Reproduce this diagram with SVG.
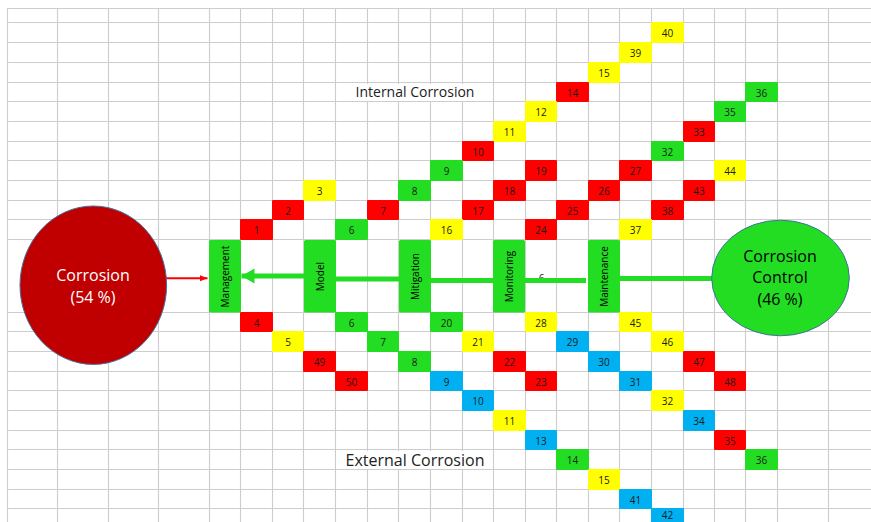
<svg xmlns="http://www.w3.org/2000/svg" width="871" height="522" viewBox="0 0 871 522">
  <style>
    .grid { stroke: #CDCDCD; stroke-width: 1.1; fill: none; }
    .R { fill: #FF0000; }
    .Y { fill: #FFFF00; }
    .G { fill: #22DD22; }
    .B { fill: #00B0F0; }
    .num { font-family: "Open Sans", "Noto Sans", sans-serif; font-size: 10px; fill: #1a1a1a; text-anchor: middle; }
    .stage { fill: #22DD22; }
    .stage-label { font-family: "Open Sans", "Noto Sans", sans-serif; font-size: 10px; fill: #000; text-anchor: middle; }
    .title { font-family: "Open Sans", "Noto Sans", sans-serif; fill: #222; text-anchor: middle; }
    .big { font-family: "Open Sans", "Noto Sans", sans-serif; font-size: 16px; text-anchor: middle; }
    .link-green { stroke: #22DD22; stroke-width: 5; fill: none; }
    .link-red { stroke: #FF0000; stroke-width: 2; fill: none; }
  </style>
  <defs>
    <marker id="head-red" markerUnits="userSpaceOnUse" markerWidth="9" markerHeight="8" refX="8" refY="4" orient="auto">
      <path d="M0,0.8 L8,4 L0,7.2 Z" fill="#FF0000"/>
    </marker>
    <marker id="head-green" markerUnits="userSpaceOnUse" markerWidth="14" markerHeight="16" refX="13" refY="8" orient="auto">
      <path d="M0,0.5 L13,8 L0,15.5 Z" fill="#22DD22"/>
    </marker>
  </defs>

  <rect width="871" height="522" fill="#FFFFFF"/>

  <!-- sheet grid -->
  <path class="grid" d="
    M7.5,8 V522 M57.5,8 V522 M108.5,8 V522 M158.5,8 V522 M209.5,8 V522 M240.5,8 V522
    M272.5,8 V522 M303.5,8 V522 M335.5,8 V522 M367.5,8 V522 M398.5,8 V522 M430.5,8 V522
    M462.5,8 V522 M493.5,8 V522 M525.5,8 V522 M556.5,8 V522 M588.5,8 V522 M619.5,8 V522
    M651.5,8 V522 M683.5,8 V522 M714.5,8 V522 M745.5,8 V522 M777.5,8 V522 M828.5,8 V522
    M7,8.5 H871 M7,22.5 H871 M7,42.5 H871 M7,62.5 H871 M7,82.5 H871 M7,101.5 H871
    M7,121.5 H871 M7,141.5 H871 M7,160.5 H871 M7,180.5 H871 M7,200.5 H871 M7,219.5 H871
    M7,239.5 H871 M7,312.5 H871 M7,331.5 H871 M7,351.5 H871 M7,371.5 H871 M7,390.5 H871
    M7,410.5 H871 M7,430.5 H871 M7,449.5 H871 M7,469.5 H871 M7,489.5 H871 M7,508.5 H871"/>

  <!-- section headings -->
  <g id="label-internal">
    <rect x="351" y="84" width="129" height="17" fill="#FFFFFF"/>
    <text class="title" x="415" y="97" font-size="14">Internal Corrosion</text>
  </g>
  <g id="label-external">
    <rect x="342" y="451" width="146" height="18" fill="#FFFFFF"/>
    <text class="title" x="415" y="465.5" font-size="16">External Corrosion</text>
  </g>

  <!-- upper branch: internal corrosion factors -->
  <g id="i-40"><rect class="Y" x="651" y="22" width="33" height="21" rx="1"/><text class="num" x="667.5" y="37">40</text></g>
  <g id="i-39"><rect class="Y" x="619" y="42" width="33" height="21" rx="1"/><text class="num" x="635.5" y="57">39</text></g>
  <g id="i-15"><rect class="Y" x="588" y="62" width="32" height="21" rx="1"/><text class="num" x="604" y="77">15</text></g>
  <g id="i-14"><rect class="R" x="556" y="82" width="33" height="20" rx="1"/><text class="num" x="572.5" y="96.5">14</text></g>
  <g id="i-36"><rect class="G" x="745" y="82" width="33" height="20" rx="1"/><text class="num" x="761.5" y="96.5">36</text></g>
  <g id="i-12"><rect class="Y" x="525" y="101" width="32" height="21" rx="1"/><text class="num" x="541" y="116">12</text></g>
  <g id="i-35"><rect class="G" x="714" y="101" width="32" height="21" rx="1"/><text class="num" x="730" y="116">35</text></g>
  <g id="i-11"><rect class="Y" x="493" y="121" width="33" height="21" rx="1"/><text class="num" x="509.5" y="136">11</text></g>
  <g id="i-33"><rect class="R" x="683" y="121" width="32" height="21" rx="1"/><text class="num" x="699" y="136">33</text></g>
  <g id="i-10"><rect class="R" x="462" y="141" width="32" height="20" rx="1"/><text class="num" x="478" y="155.5">10</text></g>
  <g id="i-32"><rect class="G" x="651" y="141" width="33" height="20" rx="1"/><text class="num" x="667.5" y="155.5">32</text></g>
  <g id="i-9"><rect class="G" x="430" y="160" width="33" height="21" rx="1"/><text class="num" x="446.5" y="175">9</text></g>
  <g id="i-19"><rect class="R" x="525" y="160" width="32" height="21" rx="1"/><text class="num" x="541" y="175">19</text></g>
  <g id="i-27"><rect class="R" x="619" y="160" width="33" height="21" rx="1"/><text class="num" x="635.5" y="175">27</text></g>
  <g id="i-44"><rect class="Y" x="714" y="160" width="32" height="21" rx="1"/><text class="num" x="730" y="175">44</text></g>
  <g id="i-3"><rect class="Y" x="303" y="180" width="33" height="21" rx="1"/><text class="num" x="319.5" y="195">3</text></g>
  <g id="i-8"><rect class="G" x="398" y="180" width="33" height="21" rx="1"/><text class="num" x="414.5" y="195">8</text></g>
  <g id="i-18"><rect class="R" x="493" y="180" width="33" height="21" rx="1"/><text class="num" x="509.5" y="195">18</text></g>
  <g id="i-26"><rect class="R" x="588" y="180" width="32" height="21" rx="1"/><text class="num" x="604" y="195">26</text></g>
  <g id="i-43"><rect class="R" x="683" y="180" width="32" height="21" rx="1"/><text class="num" x="699" y="195">43</text></g>
  <g id="i-2"><rect class="R" x="272" y="200" width="32" height="20" rx="1"/><text class="num" x="288" y="214.5">2</text></g>
  <g id="i-7"><rect class="R" x="367" y="200" width="32" height="20" rx="1"/><text class="num" x="383" y="214.5">7</text></g>
  <g id="i-17"><rect class="R" x="462" y="200" width="32" height="20" rx="1"/><text class="num" x="478" y="214.5">17</text></g>
  <g id="i-25"><rect class="R" x="556" y="200" width="33" height="20" rx="1"/><text class="num" x="572.5" y="214.5">25</text></g>
  <g id="i-38"><rect class="R" x="651" y="200" width="33" height="20" rx="1"/><text class="num" x="667.5" y="214.5">38</text></g>
  <g id="i-1"><rect class="R" x="240" y="219" width="33" height="21" rx="1"/><text class="num" x="256.5" y="234">1</text></g>
  <g id="i-6"><rect class="G" x="335" y="219" width="33" height="21" rx="1"/><text class="num" x="351.5" y="234">6</text></g>
  <g id="i-16"><rect class="Y" x="430" y="219" width="33" height="21" rx="1"/><text class="num" x="446.5" y="234">16</text></g>
  <g id="i-24"><rect class="R" x="525" y="219" width="32" height="21" rx="1"/><text class="num" x="541" y="234">24</text></g>
  <g id="i-37"><rect class="Y" x="619" y="219" width="33" height="21" rx="1"/><text class="num" x="635.5" y="234">37</text></g>

  <!-- lower branch: external corrosion factors -->
  <g id="e-4"><rect class="R" x="240" y="312" width="33" height="20" rx="1"/><text class="num" x="256.5" y="326.5">4</text></g>
  <g id="e-6"><rect class="G" x="335" y="312" width="33" height="20" rx="1"/><text class="num" x="351.5" y="326.5">6</text></g>
  <g id="e-20"><rect class="G" x="430" y="312" width="33" height="20" rx="1"/><text class="num" x="446.5" y="326.5">20</text></g>
  <g id="e-28"><rect class="Y" x="525" y="312" width="32" height="20" rx="1"/><text class="num" x="541" y="326.5">28</text></g>
  <g id="e-45"><rect class="Y" x="619" y="312" width="33" height="20" rx="1"/><text class="num" x="635.5" y="326.5">45</text></g>
  <g id="e-5"><rect class="Y" x="272" y="331" width="32" height="21" rx="1"/><text class="num" x="288" y="346">5</text></g>
  <g id="e-7"><rect class="G" x="367" y="331" width="32" height="21" rx="1"/><text class="num" x="383" y="346">7</text></g>
  <g id="e-21"><rect class="Y" x="462" y="331" width="32" height="21" rx="1"/><text class="num" x="478" y="346">21</text></g>
  <g id="e-29"><rect class="B" x="556" y="331" width="33" height="21" rx="1"/><text class="num" x="572.5" y="346">29</text></g>
  <g id="e-46"><rect class="Y" x="651" y="331" width="33" height="21" rx="1"/><text class="num" x="667.5" y="346">46</text></g>
  <g id="e-49"><rect class="R" x="303" y="351" width="33" height="21" rx="1"/><text class="num" x="319.5" y="366">49</text></g>
  <g id="e-8"><rect class="G" x="398" y="351" width="33" height="21" rx="1"/><text class="num" x="414.5" y="366">8</text></g>
  <g id="e-22"><rect class="R" x="493" y="351" width="33" height="21" rx="1"/><text class="num" x="509.5" y="366">22</text></g>
  <g id="e-30"><rect class="B" x="588" y="351" width="32" height="21" rx="1"/><text class="num" x="604" y="366">30</text></g>
  <g id="e-47"><rect class="R" x="683" y="351" width="32" height="21" rx="1"/><text class="num" x="699" y="366">47</text></g>
  <g id="e-50"><rect class="R" x="335" y="371" width="33" height="20" rx="1"/><text class="num" x="351.5" y="385.5">50</text></g>
  <g id="e-9"><rect class="B" x="430" y="371" width="33" height="20" rx="1"/><text class="num" x="446.5" y="385.5">9</text></g>
  <g id="e-23"><rect class="R" x="525" y="371" width="32" height="20" rx="1"/><text class="num" x="541" y="385.5">23</text></g>
  <g id="e-31"><rect class="B" x="619" y="371" width="33" height="20" rx="1"/><text class="num" x="635.5" y="385.5">31</text></g>
  <g id="e-48"><rect class="R" x="714" y="371" width="32" height="20" rx="1"/><text class="num" x="730" y="385.5">48</text></g>
  <g id="e-10"><rect class="B" x="462" y="390" width="32" height="21" rx="1"/><text class="num" x="478" y="405">10</text></g>
  <g id="e-32"><rect class="Y" x="651" y="390" width="33" height="21" rx="1"/><text class="num" x="667.5" y="405">32</text></g>
  <g id="e-11"><rect class="Y" x="493" y="410" width="33" height="21" rx="1"/><text class="num" x="509.5" y="425">11</text></g>
  <g id="e-34"><rect class="B" x="683" y="410" width="32" height="21" rx="1"/><text class="num" x="699" y="425">34</text></g>
  <g id="e-13"><rect class="B" x="525" y="430" width="32" height="20" rx="1"/><text class="num" x="541" y="444.5">13</text></g>
  <g id="e-35"><rect class="R" x="714" y="430" width="32" height="20" rx="1"/><text class="num" x="730" y="444.5">35</text></g>
  <g id="e-14"><rect class="G" x="556" y="449" width="33" height="21" rx="1"/><text class="num" x="572.5" y="464">14</text></g>
  <g id="e-36"><rect class="G" x="745" y="449" width="33" height="21" rx="1"/><text class="num" x="761.5" y="464">36</text></g>
  <g id="e-15"><rect class="Y" x="588" y="469" width="32" height="21" rx="1"/><text class="num" x="604" y="484">15</text></g>
  <g id="e-41"><rect class="B" x="619" y="489" width="33" height="20" rx="1"/><text class="num" x="635.5" y="503.5">41</text></g>
  <g id="e-42"><rect class="B" x="651" y="508" width="33" height="20" rx="1"/><text class="num" x="667.5" y="518.5">42</text></g>

  <!-- stray value between Monitoring and Maintenance -->
  <text id="value-6" class="num" x="541.5" y="282">6</text>

  <!-- connectors along the spine -->
  <g id="connectors">
    <path class="link-green" d="M712,278.5 H620"/>
    <path class="link-green" d="M586,280.5 H525"/>
    <path class="link-green" d="M493,280.5 H431"/>
    <path class="link-green" d="M399,279 H336"/>
    <path class="link-green" d="M304,276 H241.5" marker-end="url(#head-green)"/>
    <path class="link-red" d="M153,278.3 H207.5" marker-end="url(#head-red)"/>
  </g>

  <!-- spine stages -->
  <g id="management">
    <rect class="stage" x="209" y="240" width="32" height="72.5" rx="1.5"/>
    <text class="stage-label" transform="translate(228.5,276.5) rotate(-90)">Management</text>
  </g>
  <g id="model">
    <rect class="stage" x="304" y="240" width="32" height="72.5" rx="1.5"/>
    <text class="stage-label" transform="translate(323.5,276.5) rotate(-90)">Model</text>
  </g>
  <g id="mitigation">
    <rect class="stage" x="399" y="240" width="32" height="72.5" rx="1.5"/>
    <text class="stage-label" transform="translate(418.5,276.5) rotate(-90)">Mitigation</text>
  </g>
  <g id="monitoring">
    <rect class="stage" x="493" y="240" width="32" height="72.5" rx="1.5"/>
    <text class="stage-label" transform="translate(512.5,276.5) rotate(-90)">Monitoring</text>
  </g>
  <g id="maintenance">
    <rect class="stage" x="588" y="240" width="32" height="72.5" rx="1.5"/>
    <text class="stage-label" transform="translate(607.5,276.5) rotate(-90)">Maintenance</text>
  </g>

  <!-- outcome ellipses -->
  <g id="corrosion">
    <ellipse cx="93.3" cy="285.2" rx="73.3" ry="79.2" fill="#C00000" stroke="#41719C" stroke-width="1"/>
    <text class="big" x="93" y="281" fill="#FFFFFF">Corrosion</text>
    <text class="big" x="93" y="302.5" fill="#FFFFFF">(54 %)</text>
  </g>
  <g id="corrosion-control">
    <ellipse cx="780.5" cy="278" rx="68.8" ry="57.8" fill="#22DD22" stroke="#41719C" stroke-width="1"/>
    <text class="big" x="780" y="261.5" fill="#000000">Corrosion</text>
    <text class="big" x="780" y="283" fill="#000000">Control</text>
    <text class="big" x="780" y="304.5" fill="#000000">(46 %)</text>
  </g>
</svg>
